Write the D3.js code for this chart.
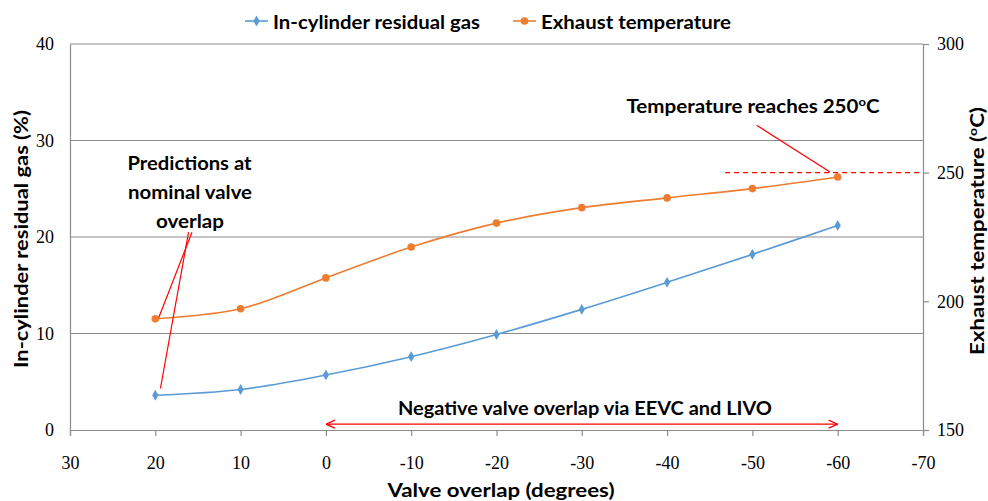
<!DOCTYPE html>
<html>
<head>
<meta charset="utf-8">
<script src="https://cdn.jsdelivr.net/npm/d3@7"></script>
<style>
  body { margin: 0; background: #fff; }
  svg { display: block; }
  .tick text { font-family: "Liberation Serif", "Times New Roman", serif; font-size: 18px; fill: #000; }
  .bold { font-family: Lato, "Open Sans", sans-serif; font-weight: bold; fill: #000; }
</style>
</head>
<body>
<div id="chart"></div>
<script>
var overlap = [20, 10, 0, -10, -20, -30, -40, -50, -60];
var residualGas = [3.6, 4.2, 5.7, 7.6, 9.9, 12.5, 15.3, 18.2, 21.2];
var exhaustTemp = [193.2, 197.1, 209.1, 221.1, 230.4, 236.4, 240.2, 243.8, 248.3];
var xTicks = [30, 20, 10, 0, -10, -20, -30, -40, -50, -60, -70];
var gasTicks = [0, 10, 20, 30, 40];
var tempTicks = [150, 200, 250, 300];

var width = 988, height = 501;
var margin = {top: 44, right: 65, bottom: 71, left: 70};

var x = d3.scaleLinear().domain([30, -70]).range([margin.left, width - margin.right]);
var y = d3.scaleLinear().domain([0, 40]).range([height - margin.bottom, margin.top]);
var y2 = d3.scaleLinear().domain([150, 300]).range([height - margin.bottom, margin.top]);

var blue = "#5B9BD5", orange = "#ED7D31", red = "#FF0000", grid = "#8c8c8c";
var plain = function(d) { return String(d); };  // keep the ASCII hyphen for negatives

var svg = d3.select("#chart").append("svg")
    .attr("width", width)
    .attr("height", height);

var defs = svg.append("defs");
["start", "end"].forEach(function(k) {
  defs.append("marker")
      .attr("id", "arrow-" + k)
      .attr("viewBox", "0 0 10 10")
      .attr("refX", 10).attr("refY", 5)
      .attr("markerWidth", 10).attr("markerHeight", 10)
      .attr("markerUnits", "userSpaceOnUse")
      .attr("orient", k == "start" ? "auto-start-reverse" : "auto")
    .append("path")
      .attr("d", "M1,1 L10,5 L1,9")
      .attr("fill", "none")
      .attr("stroke", red)
      .attr("stroke-width", 1.3);
});

// gridlines
svg.append("g").selectAll("line")
    .data(gasTicks.slice(1))
  .enter().append("line")
    .attr("x1", margin.left).attr("x2", width - margin.right)
    .attr("y1", y).attr("y2", y)
    .attr("stroke", grid).attr("stroke-width", 1.2);

// axes
var xAxis = svg.append("g")
    .attr("transform", "translate(0," + (height - margin.bottom) + ")")
    .call(d3.axisBottom(x).tickValues(xTicks).tickFormat(plain).tickSize(6).tickSizeOuter(6).tickPadding(20));
var yAxis = svg.append("g")
    .attr("transform", "translate(" + margin.left + ",0)")
    .call(d3.axisLeft(y).tickValues(gasTicks).tickFormat(plain).tickSize(0).tickPadding(16));
var y2Axis = svg.append("g")
    .attr("transform", "translate(" + (width - margin.right) + ",0)")
    .call(d3.axisRight(y2).tickValues(tempTicks).tickFormat(plain).tickSize(6).tickSizeOuter(0).tickPadding(8));

[xAxis, yAxis, y2Axis].forEach(function(a) {
  a.select(".domain").attr("stroke", grid).attr("stroke-width", 1.2);
  a.selectAll(".tick line").attr("stroke", grid).attr("stroke-width", 1.2);
  a.attr("font-family", null).attr("font-size", null);
});
xAxis.selectAll(".tick text").attr("dy", "0.71em");

// series
var curve = d3.curveCatmullRom.alpha(0.5);
var gasLine = d3.line().curve(curve)
    .x(function(d, i) { return x(overlap[i]); })
    .y(function(d) { return y(d); });
var tempLine = d3.line().curve(curve)
    .x(function(d, i) { return x(overlap[i]); })
    .y(function(d) { return y2(d); });

svg.append("path").datum(residualGas)
    .attr("d", gasLine).attr("fill", "none").attr("stroke", blue).attr("stroke-width", 1.6);
svg.append("path").datum(exhaustTemp)
    .attr("d", tempLine).attr("fill", "none").attr("stroke", orange).attr("stroke-width", 1.6);

var diamond = d3.symbol().type(d3.symbolDiamond).size(34);
svg.append("g").selectAll("path")
    .data(residualGas)
  .enter().append("path")
    .attr("d", diamond)
    .attr("transform", function(d, i) { return "translate(" + x(overlap[i]) + "," + y(d) + ")"; })
    .attr("fill", blue);
svg.append("g").selectAll("circle")
    .data(exhaustTemp)
  .enter().append("circle")
    .attr("cx", function(d, i) { return x(overlap[i]); })
    .attr("cy", function(d) { return y2(d); })
    .attr("r", 3.8)
    .attr("fill", orange);

// annotations
svg.append("line")
    .attr("x1", x(-46.8)).attr("x2", x(-70))
    .attr("y1", y2(250)).attr("y2", y2(250))
    .attr("stroke", red).attr("stroke-width", 1.3).attr("stroke-dasharray", "5,4");
svg.append("line")
    .attr("x1", x(-50.5)).attr("y1", y2(268.4))
    .attr("x2", x(-59.1)).attr("y2", y2(250.3))
    .attr("stroke", red).attr("stroke-width", 1.2);
svg.append("line")
    .attr("x1", x(15.7)).attr("y1", y(20.5))
    .attr("x2", x(19.6)).attr("y2", y2(193.6))
    .attr("stroke", red).attr("stroke-width", 1.2);
svg.append("line")
    .attr("x1", x(16.1)).attr("y1", y(20.5))
    .attr("x2", x(19.4)).attr("y2", y(4.3))
    .attr("stroke", red).attr("stroke-width", 1.2);
svg.append("line")
    .attr("x1", x(0)).attr("x2", x(-60))
    .attr("y1", y(0.6)).attr("y2", y(0.6))
    .attr("stroke", red).attr("stroke-width", 1.3)
    .attr("marker-start", "url(#arrow-start)")
    .attr("marker-end", "url(#arrow-end)");

function label(txt, cx, cy, size, len) {
  return svg.append("text").attr("class", "bold")
      .attr("x", cx).attr("y", cy)
      .attr("text-anchor", "middle")
      .attr("font-size", size)
      .attr("textLength", len).attr("lengthAdjust", "spacingAndGlyphs")
      .text(txt);
}

label("Predictions at", 189.5, 170, 19, 124);
label("nominal valve", 190, 199, 19, 124);
label("overlap", 190, 228, 19, 68);
var t250 = label("Temperature reaches 250", 753, 113, 19, 253).text(null);
t250.append("tspan").text("Temperature reaches 250");
t250.append("tspan").attr("font-size", 12).attr("dy", -7).text("o");
t250.append("tspan").attr("dy", 7).text("C");
label("Negative valve overlap via EEVC and LIVO", 585, 415, 19, 374);
label("Valve overlap (degrees)", 501, 497, 19, 227);

// axis titles
svg.append("text").attr("class", "bold")
    .attr("transform", "translate(28," + 239 + ") rotate(-90)")
    .attr("text-anchor", "middle").attr("font-size", 19)
    .attr("textLength", 258).attr("lengthAdjust", "spacingAndGlyphs")
    .text("In-cylinder residual gas (%)");
var rt = svg.append("text").attr("class", "bold")
    .attr("transform", "translate(984," + 231 + ") rotate(-90)")
    .attr("text-anchor", "middle").attr("font-size", 19)
    .attr("textLength", 248).attr("lengthAdjust", "spacingAndGlyphs");
rt.append("tspan").text("Exhaust temperature (");
rt.append("tspan").attr("font-size", 12).attr("dy", -7).text("o");
rt.append("tspan").attr("dy", 7).text("C)");

// legend
var legendItems = [
  {name: "In-cylinder residual gas", color: blue, x: 245, len: 207, shape: "diamond"},
  {name: "Exhaust temperature", color: orange, x: 513, len: 190, shape: "circle"}
];
var lg = svg.append("g").selectAll("g")
    .data(legendItems)
  .enter().append("g")
    .attr("transform", function(d) { return "translate(" + d.x + ",21)"; });
lg.append("line")
    .attr("x1", 0).attr("x2", 23)
    .attr("stroke", function(d) { return d.color; }).attr("stroke-width", 1.6);
lg.filter(function(d) { return d.shape == "diamond"; }).append("path")
    .attr("d", diamond).attr("transform", "translate(11.5,0)")
    .attr("fill", blue);
lg.filter(function(d) { return d.shape == "circle"; }).append("circle")
    .attr("cx", 11.5).attr("r", 3.8).attr("fill", orange);
lg.append("text").attr("class", "bold")
    .attr("x", 28).attr("y", 8)
    .attr("font-size", 19)
    .attr("textLength", function(d) { return d.len; })
    .attr("lengthAdjust", "spacingAndGlyphs")
    .text(function(d) { return d.name; });
</script>
</body>
</html>
